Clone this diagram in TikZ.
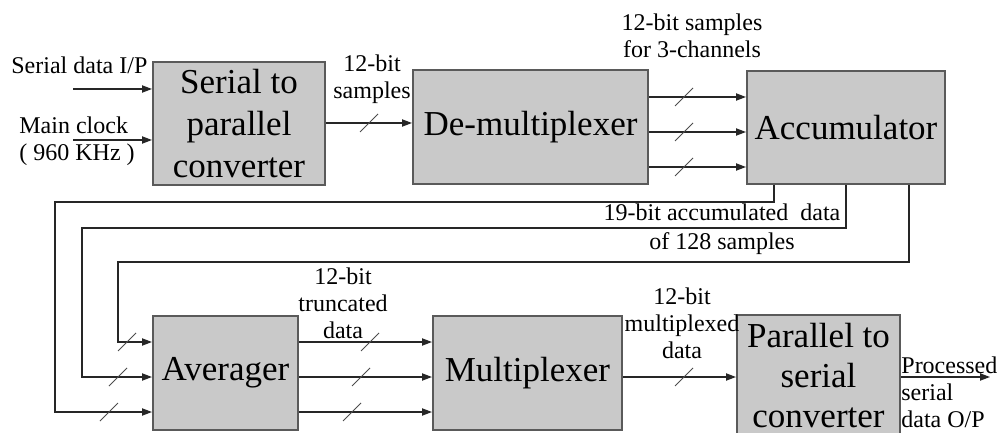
\documentclass[tikz,border=0pt]{standalone}
\usepackage{fontspec}
\setmainfont{Liberation Serif}
\usetikzlibrary{arrows.meta}
\definecolor{boxgray}{HTML}{C9C9C9}
\definecolor{edgegray}{HTML}{5A5A5A}
\begin{document}
\begin{tikzpicture}[x=0.5pt,y=-0.5pt,
  block/.style={draw=edgegray, line width=1pt, fill=boxgray, align=center, inner sep=0pt, font=\fontsize{17.5}{21}\selectfont},
  lbl/.style={inner sep=0pt, font=\fontsize{12}{13.5}\selectfont},
  wire/.style={line width=0.65pt, draw=black!85},
  bus/.style={wire, -{Triangle[length=5pt,width=3.6pt]}},
  slash/.style={line width=0.5pt, draw=black!70}]
\useasboundingbox (0,0) rectangle (997,433);
\clip (0,0) rectangle (997,433);
% blocks
\node[block, minimum width=86pt, minimum height=61.5pt] (s2p) at (239,123.5) {Serial to\\parallel\\converter};
\node[block, minimum width=117.5pt, minimum height=57pt] (demux) at (530.5,127) {De-multiplexer};
\node[block, minimum width=99pt, minimum height=56.5pt] (acc) at (846,127.5) {Accumulator};
\node[block, minimum width=72.5pt, minimum height=57pt] (avg) at (225.5,373) {Averager};
\node[block, minimum width=94.5pt, minimum height=57pt] (mux) at (527.5,373) {Multiplexer};
\node[block, minimum width=81.5pt, minimum height=66pt] (p2s) at (818.5,381) {};
\node[inner sep=0pt, align=center, font=\fontsize{17.5}{20}\selectfont] (tp2s) at (818.5,376) {Parallel to\\serial\\converter};
% points
\coordinate (sin) at (73,89);
\coordinate (clk) at (73,140);
\coordinate (b0) at (369,123);
\coordinate (b1) at (684,97);
\coordinate (b2) at (684,132);
\coordinate (b3) at (684,167);
\coordinate (f1) at (774,202);
\coordinate (f2) at (846,228);
\coordinate (f3) at (909,262);
\coordinate (v1) at (55,412);
\coordinate (v2) at (82,377);
\coordinate (v3) at (118,342);
\coordinate (out) at (990,377);
% inputs
\draw[bus] (sin) -- (sin -| s2p.west);
\draw[bus] (clk) -- (clk -| s2p.west);
\node[lbl, anchor=west] (tin) at (11,65) {Serial data I/P};
\node[lbl, anchor=west, align=left] (tclk) at (19,141) {Main clock\\( 960 KHz )};
% first row
\draw[bus] (s2p.east |- b0) -- (demux.west |- b0);
\draw[slash] (b0) +(-9,9) -- +(9,-9);
\node[lbl, align=center] (tsmp) at (372,79) {12-bit\\samples};
\draw[bus] (demux.east |- b1) -- (acc.west |- b1);
\draw[bus] (demux.east |- b2) -- (acc.west |- b2);
\draw[bus] (demux.east |- b3) -- (acc.west |- b3);
\draw[slash] (b1) +(-9,9) -- +(9,-9);
\draw[slash] (b2) +(-9,9) -- +(9,-9);
\draw[slash] (b3) +(-9,9) -- +(9,-9);
\node[lbl, align=center] (tch) at (692,36) {12-bit samples\\for 3-channels};
% feedback to averager
\draw[bus] (acc.south -| f1) -- (f1) -| (v1) -- (avg.west |- v1);
\draw[bus] (acc.south -| f2) -- (f2) -| (v2) -- (avg.west |- v2);
\draw[bus] (acc.south -| f3) -- (f3) -| (v3) -- (avg.west |- v3);
\draw[slash] (109,412) +(-9,9) -- +(9,-9);
\draw[slash] (118,377) +(-9,9) -- +(9,-9);
\draw[slash] (127,342) +(-9,9) -- +(9,-9);
\node[lbl, align=center] (tacc) at (722,229) {19-bit accumulated\ \ data\\[1pt]of 128 samples};
% second row
\draw[bus] (avg.east |- v3) -- (mux.west |- v3);
\draw[bus] (avg.east |- v2) -- (mux.west |- v2);
\draw[bus] (avg.east |- v1) -- (mux.west |- v1);
\draw[slash] (370,342) +(-9,9) -- +(9,-9);
\draw[slash] (361,377) +(-9,9) -- +(9,-9);
\draw[slash] (352,412) +(-9,9) -- +(9,-9);
\node[lbl, align=center] (ttr) at (343,303) {12-bit\\truncated\\data};
\draw[bus] (mux.east |- v2) -- (p2s.west |- v2);
\draw[slash] (684,377) +(-9,9) -- +(9,-9);
\node[lbl, align=center] (tmx) at (682,323) {12-bit\\multiplexed\\data};
\draw[bus] (p2s.east |- v2) -- (out);
\node[lbl, anchor=west, align=left] (tout) at (901,392) {Processed\\serial\\data O/P};
\end{tikzpicture}
\end{document}
